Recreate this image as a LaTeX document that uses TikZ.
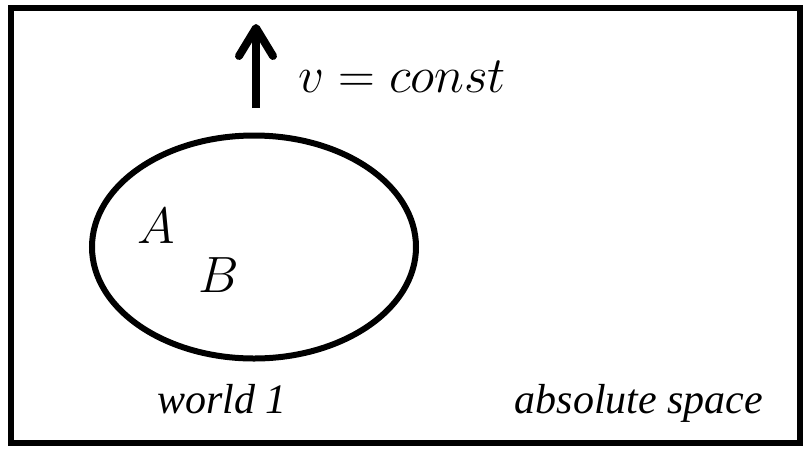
\RequirePackage{fix-cm}
\documentclass[tikz,border=0pt]{standalone}
\usepackage{fontspec}
\setmainfont{Liberation Serif}
\usepackage{tikz}
\usetikzlibrary{positioning,arrows.meta,shapes.geometric}
\tikzset{
  every node/.style={inner sep=0pt},
  frame/.style={draw=black, line width=6pt},
  world/.style={
    ellipse, draw=black, line width=6pt,
    minimum width=324pt, minimum height=223pt
  },
  mathlabel/.style={anchor=base, font=\fontsize{51}{56}\selectfont},
  textlabel/.style={anchor=base, font=\fontsize{42}{48}\selectfont\itshape},
  arrow/.style={
    -{Straight Barb[length=28pt,width=34pt,round]},
    line width=8pt, draw=black
  },
}
\begin{document}
\begin{tikzpicture}[x=1pt,y=-1pt]
  \useasboundingbox (0,0) rectangle (808,451);
  \draw[frame] (11,8) rectangle (800,443);
  % world 1 with its two bodies
  \node[world] (world) at (254,247) {};
  \node[mathlabel] (A) at (156,243) {$A$};
  \node[mathlabel] (B) at (219,292) {$B$};
  % uniform motion
  \coordinate (vtail) at (256,108);
  \coordinate (vhead) at (256,24);
  \draw[arrow] (vtail) -- (vhead);
  \node[mathlabel] (vlabel) at (402,92) {$v=const$};
  \node[textlabel] (wlabel) at (222,413) {world 1};
  \node[textlabel] (slabel) at (639,413) {absolute space};
\end{tikzpicture}
\end{document}
